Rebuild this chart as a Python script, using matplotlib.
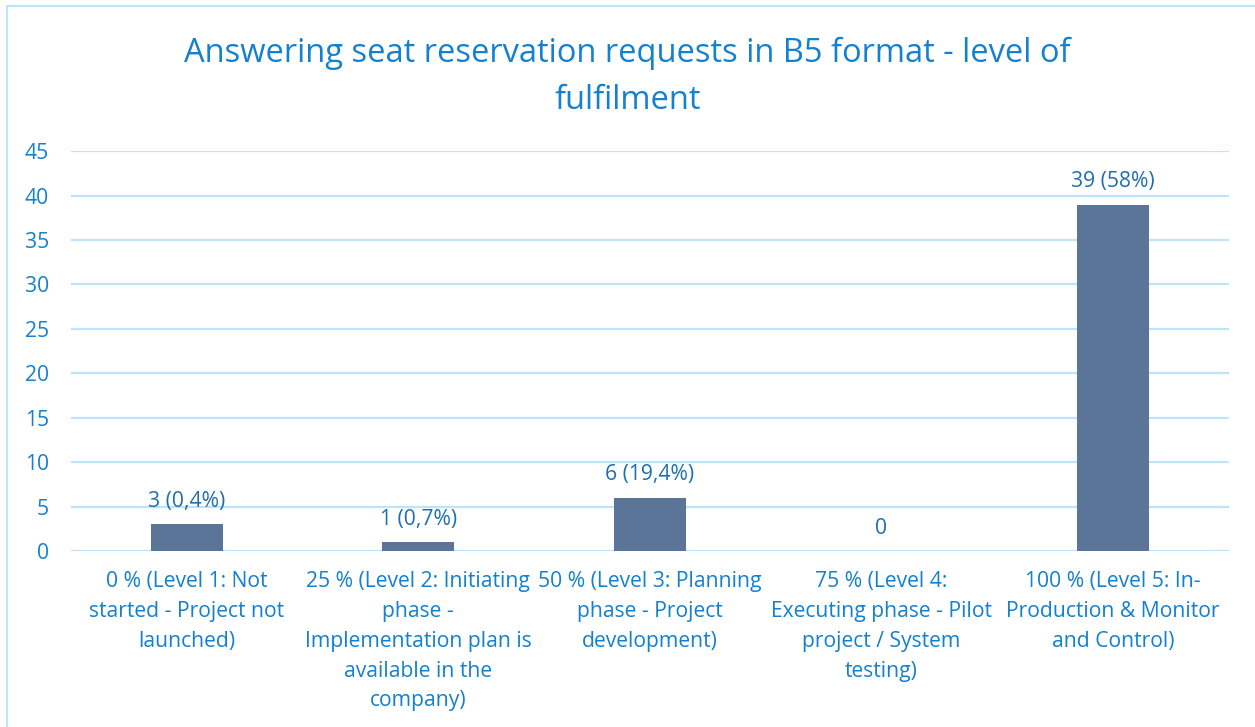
import matplotlib

matplotlib.use("Agg")
import matplotlib.pyplot as plt
from matplotlib.patches import Rectangle

plt.rcParams["font.family"] = ["Open Sans", "DejaVu Sans"]

# data
categories = [
    "0 % (Level 1: Not\nstarted - Project not\nlaunched)",
    "25 % (Level 2: Initiating\nphase -\nImplementation plan is\navailable in the\ncompany)",
    "50 % (Level 3: Planning\nphase - Project\ndevelopment)",
    "75 % (Level 4:\nExecuting phase - Pilot\nproject / System\ntesting)",
    "100 % (Level 5: In-\nProduction & Monitor\nand Control)",
]
counts = [3, 1, 6, 0, 39]
bar_labels = ["3 (0,4%)", "1 (0,7%)", "6 (19,4%)", "0", "39 (58%)"]
title = "Answering seat reservation requests in B5 format - level of\nfulfilment"

BLUE = "#1380D0"
LABEL_BLUE = "#1F6FB0"
BAR = "#5B7599"
GRID = "#BFE3F8"

fig = plt.figure(figsize=(12.55, 7.27), dpi=100)
ax = fig.add_axes([0.0566, 0.242, 0.9224, 0.550])

x = range(len(categories))
ax.bar(x, counts, width=0.31, color=BAR, zorder=3)
for xi, v, lab in zip(x, counts, bar_labels):
    ax.annotate(lab, (xi, v), xytext=(0, 9), textcoords="offset points",
                ha="center", va="bottom", fontsize=15.2, color=LABEL_BLUE)

ax.set_xlim(-0.5, len(categories) - 0.5)
ax.set_ylim(0, 45)
ax.set_yticks(range(0, 46, 5))
ax.set_xticks(list(x))
ax.set_xticklabels(categories, fontsize=15.2, color=BLUE, linespacing=1.55)
ax.tick_params(axis="y", labelsize=15.2, labelcolor=BLUE, length=0, pad=16)
ax.tick_params(axis="x", length=0, pad=14.5)
ax.grid(axis="y", color=GRID, linewidth=1.6, zorder=0)
for s in ax.spines.values():
    s.set_visible(False)

fig.text(0.5, 0.894, title, ha="center", va="center", fontsize=23.5,
         color=BLUE, linespacing=1.55)

# light blue frame round the chart area
fig.patches.append(Rectangle((7 / 1255, -0.01), 1.0, 1 - 6 / 727 + 0.01,
                             transform=fig.transFigure, fill=False,
                             edgecolor=GRID, linewidth=1.5))

fig.savefig("out.png", dpi=100)
